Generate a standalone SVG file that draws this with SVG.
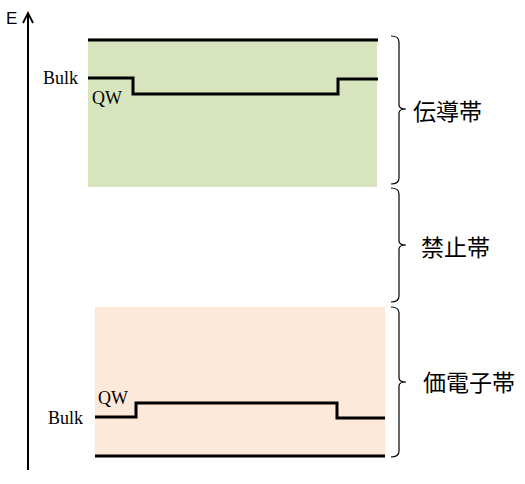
<svg xmlns="http://www.w3.org/2000/svg" width="525" height="484" viewBox="0 0 525 484">
<style>
.lv{fill:none;stroke:#000;stroke-width:3;stroke-linejoin:miter}
.br{fill:none;stroke:#000;stroke-width:1.2}
.lab{font-family:"Liberation Serif",serif;font-size:18px;fill:#000}
.jp{font-family:"Noto Sans CJK JP",sans-serif;font-size:23px;fill:#000}
</style>
<rect width="525" height="484" fill="#fff"/>
<g id="axis">
<line x1="28" y1="470" x2="28" y2="14" stroke="#000" stroke-width="2"/>
<path d="M23,23 L28,13 L33,23" fill="none" stroke="#000" stroke-width="1.8"/>
<text x="6" y="24" font-family="Liberation Sans,sans-serif" font-size="17">E</text>
</g>
<g id="conduction">
<rect x="88" y="38" width="289" height="149" fill="#d7e4bd"/>
<line class="lv" x1="88" y1="40" x2="378" y2="40"/>
<path class="lv" d="M88,78 H133 V94 H338 V79 H378"/>
<text class="lab" x="43" y="84">Bulk</text>
<text class="lab" x="92" y="104">QW</text>
</g>
<g id="valence">
<rect x="95" y="307" width="290" height="150" fill="#fde9d9"/>
<line class="lv" x1="95" y1="456" x2="385" y2="456"/>
<path class="lv" d="M95,417 H136 V403 H337 V418 H385"/>
<text class="lab" x="48" y="424">Bulk</text>
<text class="lab" x="98" y="404">QW</text>
</g>
<g id="connectors">
<path class="br" d="M391,36 Q399,36 399,42 V105 Q399,109 406,109 Q399,109 399,113 V178 Q399,184 391,184"/>
<path class="br" d="M391,188 Q399,188 399,194 V241 Q399,245 406,245 Q399,245 399,249 V296 Q399,302 391,302"/>
<path class="br" stroke="#7f7f7f" d="M391,307 Q399,307 399,313 V378 Q399,382 406,382 Q399,382 399,386 V451 Q399,457 391,457"/>
</g>
<g id="label-cb"><text class="jp" x="413" y="120">伝導帯</text></g>
<g id="label-gap"><text class="jp" x="421" y="256">禁止帯</text></g>
<g id="label-vb"><text class="jp" x="423" y="391">価電子帯</text></g>
</svg>
